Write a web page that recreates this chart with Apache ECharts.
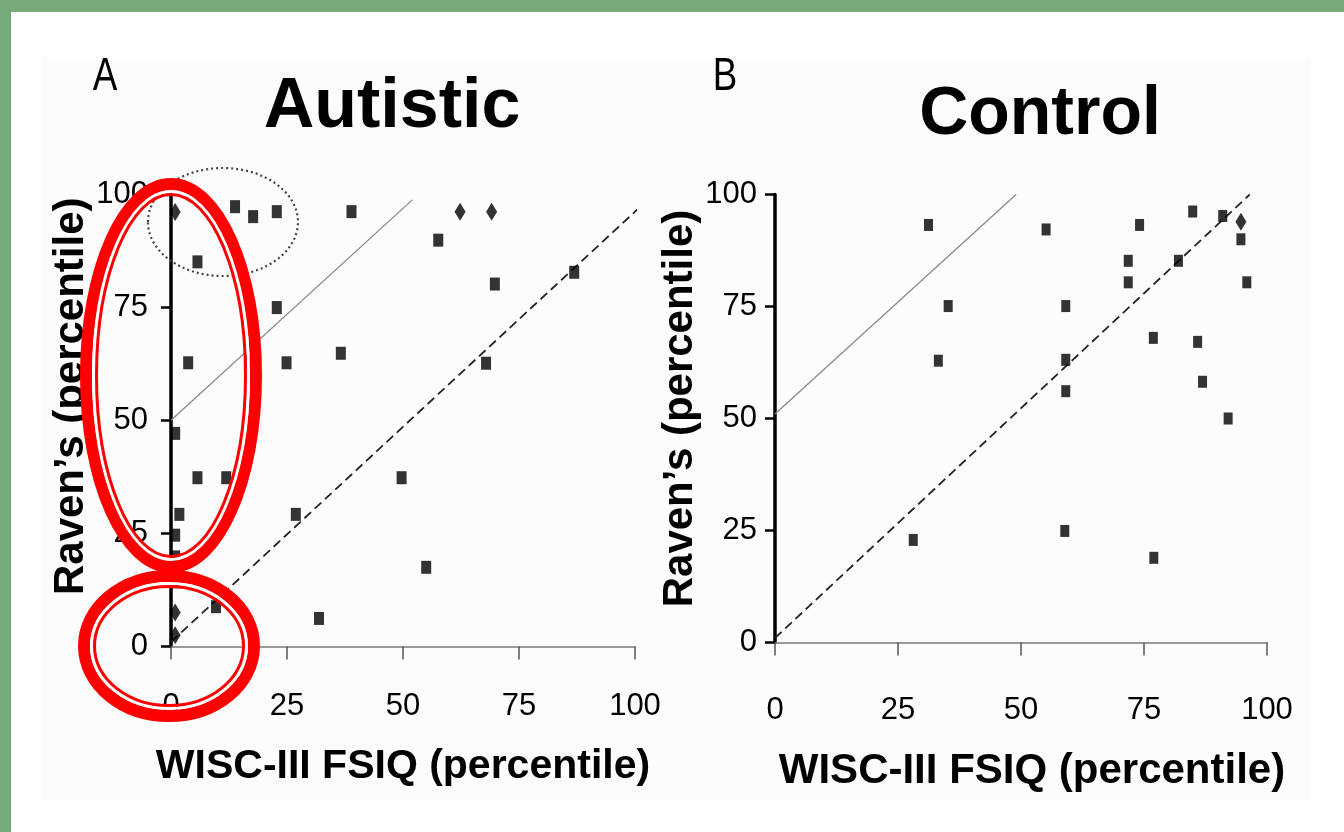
<!DOCTYPE html>
<html>
<head>
<meta charset="utf-8">
<title>Autistic vs Control</title>
<script src="https://cdn.jsdelivr.net/npm/echarts@6/dist/echarts.min.js"></script>
<style>
  html, body { margin: 0; padding: 0; background: #ffffff; }
  #chart { width: 1344px; height: 832px; }
</style>
</head>
<body>
<div id="chart"></div>
<script>
// Panel A (autistic): [WISC-III FSIQ percentile, Raven's percentile]
const autisticSquares = [
  [13.8, 97.2], [17.7, 95.0], [22.8, 96.1], [38.9, 96.1], [57.6, 89.8],
  [12.1, 89.8], [5.7, 85.0], [22.8, 74.9], [3.7, 62.7], [17.0, 62.9],
  [24.9, 62.7], [36.6, 64.8], [69.8, 80.1], [86.9, 82.7], [67.9, 62.6],
  [0.9, 47.1], [5.7, 37.3], [11.9, 37.3], [49.7, 37.3], [1.8, 29.2],
  [26.9, 29.2], [0.9, 24.6], [0.9, 19.8], [0.9, 14.3], [55.0, 17.5],
  [9.7, 8.8], [31.9, 6.2]
];
const autisticDiamonds = [[0.9, 96.0], [62.3, 96.1], [69.1, 96.1], [0.9, 7.5], [0.9, 2.5]];

// Panel B (control)
const controlSquares = [
  [31.2, 93.2], [35.2, 75.1], [33.2, 62.9], [55.1, 92.2], [74.1, 93.2],
  [84.9, 96.2], [91.0, 95.2], [94.7, 90.0], [71.8, 85.2], [82.0, 85.2],
  [71.8, 80.4], [95.9, 80.4], [59.1, 75.1], [76.9, 68.0], [85.9, 67.1],
  [59.1, 63.1], [59.1, 56.1], [86.9, 58.2], [92.1, 50.0], [28.1, 22.9],
  [58.9, 24.9], [77.0, 18.9]
];
const controlDiamonds = [[94.7, 93.9]];

// reference lines
const autisticSolid = [[0, 50], [52, 98.7]];
const autisticDashed = [[0, 1], [102, 98]];
const controlSolid = [[0, 51], [49, 100]];
const controlDashed = [[0, 1], [96.5, 100]];

const tickStep = 25;
const xTitle = "WISC-III FSIQ (percentile)";
const yTitle = "Raven\u2019s (percentile)";

const NARROW = '"Liberation Sans Narrow", "Liberation Sans", Arial, sans-serif';
const SANS = '"Liberation Sans", Arial, sans-serif';

function xAxisFor(gridIndex, nameGap, namePad, nameSize, labelMargin) {
  return {
    type: "value",
    gridIndex,
    min: 0,
    max: 100,
    interval: tickStep,
    name: xTitle,
    nameLocation: "middle",
    nameGap,
    nameTextStyle: { fontFamily: SANS, fontWeight: "bold", fontSize: nameSize, color: "#000", padding: namePad },
    axisLine: { show: true, lineStyle: { color: "#7a7a7a", width: 1.5 } },
    axisTick: { show: true, length: 13, lineStyle: { color: "#555", width: 1.5 } },
    axisLabel: { margin: labelMargin, fontFamily: NARROW, fontSize: 31, color: "#000" },
    splitLine: { show: false }
  };
}

function yAxisFor(gridIndex, nameGap, namePad, labelMargin) {
  return {
    type: "value",
    gridIndex,
    min: 0,
    max: 100,
    interval: tickStep,
    name: yTitle,
    nameLocation: "middle",
    nameGap,
    nameTextStyle: { fontFamily: SANS, fontWeight: "bold", fontSize: 42, color: "#000", padding: namePad },
    axisLine: { show: true, lineStyle: { color: "#000", width: 3.5 } },
    axisTick: { show: true, length: 10, lineStyle: { color: "#000", width: 2.5 } },
    axisLabel: { margin: labelMargin, fontFamily: NARROW, fontSize: 31, color: "#000" },
    splitLine: { show: false }
  };
}

function squareSeries(idx, data, size) {
  return {
    type: "scatter", xAxisIndex: idx, yAxisIndex: idx, data,
    symbol: "rect", symbolSize: size, itemStyle: { color: "#000" }, z: 5
  };
}

function diamondSeries(idx, data) {
  return {
    type: "scatter", xAxisIndex: idx, yAxisIndex: idx, data,
    symbol: "diamond", symbolSize: [11, 18], itemStyle: { color: "#000" }, z: 6
  };
}

function refLine(idx, data, color, width, type) {
  return {
    type: "line", xAxisIndex: idx, yAxisIndex: idx, data,
    symbol: "none", clip: false, silent: true,
    lineStyle: { color, width, type }, z: 3
  };
}

function ellipseRing(cx, cy, rx, ry) {
  // thick red outer stroke, white gap, thin red inner stroke
  return [
    { type: "ellipse", shape: { cx, cy, rx: rx - 6, ry: ry - 6 }, style: { fill: null, stroke: "#ff0000", lineWidth: 12 }, z: 100 },
    { type: "ellipse", shape: { cx, cy, rx: rx - 13.5, ry: ry - 13.5 }, style: { fill: null, stroke: "#ffffff", lineWidth: 3 }, z: 100 },
    { type: "ellipse", shape: { cx, cy, rx: rx - 16.5, ry: ry - 16.5 }, style: { fill: null, stroke: "#ff0000", lineWidth: 3 }, z: 100 }
  ];
}

function label(x, y, text, size, weight, family, scaleX) {
  return {
    type: "text", x, y, z: 50, scaleX: scaleX || 1,
    style: { text, fontSize: size, fontWeight: weight, fontFamily: family, fill: "#000", align: "center", verticalAlign: "middle" }
  };
}

const chart = echarts.init(document.getElementById("chart"), null, { renderer: "canvas" });

chart.setOption({
  backgroundColor: "#ffffff",
  animation: false,
  grid: [
    { left: 171, right: 709, top: 194, bottom: 185.5 },
    { left: 775, right: 77, top: 194.5, bottom: 189.5 }
  ],
  xAxis: [
    xAxisFor(0, 100, [0, 0, 0, 0], 41, 44),
    xAxisFor(1, 108, [0, 0, 0, 22], 42, 52)
  ],
  yAxis: [yAxisFor(0, 76, [0, 0, 0, 48], 23), yAxisFor(1, 64, [0, 0, 0, 20], 18)],
  series: [
    refLine(0, autisticSolid, "#8a8a8a", 1.3, "solid"),
    refLine(0, autisticDashed, "#222", 1.8, [9, 5]),
    squareSeries(0, autisticSquares, [10, 13]),
    diamondSeries(0, autisticDiamonds),
    refLine(1, controlSolid, "#8a8a8a", 1.3, "solid"),
    refLine(1, controlDashed, "#222", 1.8, [9, 5]),
    squareSeries(1, controlSquares, [9, 12]),
    diamondSeries(1, controlDiamonds)
  ],
  graphic: [
    { type: "rect", shape: { x: 0, y: 0, width: 1344, height: 12 }, style: { fill: "#77aa7b" }, z: -10 },
    { type: "rect", shape: { x: 0, y: 0, width: 11, height: 832 }, style: { fill: "#77aa7b" }, z: -10 },
    { type: "rect", shape: { x: 42, y: 57, width: 1269, height: 743 }, style: { fill: "#fcfcfc" }, z: -9 },
    label(105, 77, "A", 46, "normal", NARROW, 0.8),
    label(725, 77, "B", 46, "normal", NARROW, 0.8),
    label(392, 108, "Autistic", 70, "bold", SANS),
    label(1040, 115, "Control", 68, "bold", SANS),
    { type: "ellipse", shape: { cx: 223, cy: 222, rx: 75, ry: 54 }, style: { fill: null, stroke: "#444", lineWidth: 2.2, lineDash: [2, 3] }, z: 60 },
    ...ellipseRing(171, 375.5, 91, 197.5),
    ...ellipseRing(169, 646, 91, 76)
  ]
});
</script>
</body>
</html>
